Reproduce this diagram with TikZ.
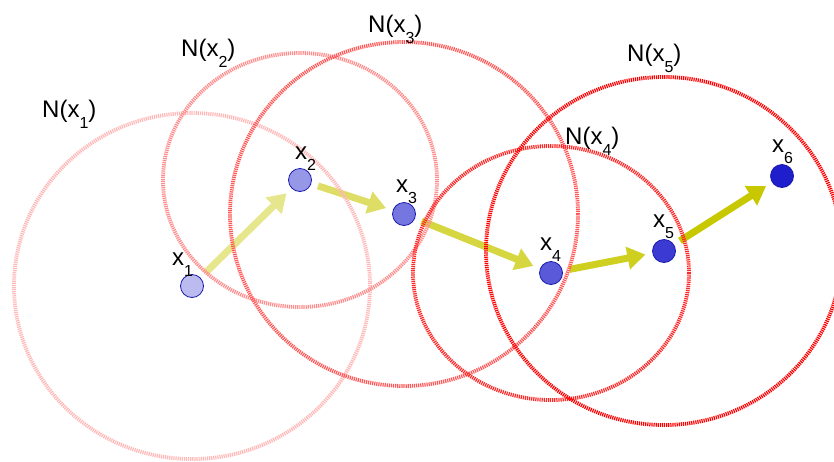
\documentclass[tikz,border=0pt]{standalone}
\usepackage{fontspec}
\setmainfont{Liberation Sans}
\usetikzlibrary{arrows.meta}
\definecolor{ptblue}{RGB}{30,30,204}
\definecolor{arrowy}{RGB}{200,200,0}
\definecolor{nred}{RGB}{255,0,0}
\newcommand{\subd}[1]{\raisebox{-11pt}{\fontsize{16pt}{16pt}\selectfont #1}}
\pgfdeclarelayer{back}
\pgfsetlayers{back,main}
\begin{document}
\begin{tikzpicture}[x=1pt,y=-1pt,
  pt/.style={circle, draw=ptblue!85!black, line width=0.8pt, minimum size=23pt, inner sep=0pt},
  nb/.style={line width=3.8pt, dash pattern=on 1.2pt off 0.9pt},
  ar/.style={line width=7pt, -{Triangle[length=18pt,width=22pt]}, shorten >=7pt, shorten <=7pt},
  lab/.style={anchor=base west, inner sep=0pt, font=\fontsize{24pt}{26pt}\selectfont}]
\useasboundingbox (0,0) rectangle (834,461);
\clip (0,0) rectangle (834,461);
% points
\node[pt, fill=ptblue!30] (p1) at (192,286) {};
\node[pt, fill=ptblue!46] (p2) at (300,180) {};
\node[pt, fill=ptblue!61] (p3) at (404,214) {};
\node[pt, fill=ptblue!74] (p4) at (551,273) {};
\node[pt, fill=ptblue!87] (p5) at (664,251) {};
\node[pt, fill=ptblue] (p6) at (782,176) {};
\begin{pgfonlayer}{back}
% arrows
\draw[ar, draw=arrowy!45] (p1) -- (p2);
\draw[ar, draw=arrowy!60] (p2) -- (p3);
\draw[ar, draw=arrowy!75] (p3) -- (p4);
\draw[ar, draw=arrowy!88] (p4) -- (p5);
\draw[ar, draw=arrowy] (p5) -- (p6);
% neighbourhoods
\draw[nb, draw=nred!28] (p1.center) ellipse [x radius=178pt, y radius=173pt];
\draw[nb, draw=nred!45] (p2.center) ellipse [x radius=137pt, y radius=127pt];
\draw[nb, draw=nred!66] (p3.center) ellipse [x radius=174pt, y radius=172pt];
\draw[nb, draw=nred!85] (p4.center) ellipse [x radius=138pt, y radius=127pt];
\draw[nb, draw=nred] (p5.center) ellipse [x radius=178pt, y radius=174pt];
\end{pgfonlayer}
% labels
\node[lab] (l1) at (42,117) {N(x\subd{1})};
\node[lab] (l2) at (181,56) {N(x\subd{2})};
\node[lab] (l3) at (368,32) {N(x\subd{3})};
\node[lab] (l4) at (565,144) {N(x\subd{4})};
\node[lab] (l5) at (627,61) {N(x\subd{5})};
\node[lab] (q1) at (172,265) {x\subd{1}};
\node[lab] (q2) at (295,159) {x\subd{2}};
\node[lab] (q3) at (396,192) {x\subd{3}};
\node[lab] (q4) at (540,250) {x\subd{4}};
\node[lab] (q5) at (653,227) {x\subd{5}};
\node[lab] (q6) at (772,152) {x\subd{6}};
\end{tikzpicture}
\end{document}
